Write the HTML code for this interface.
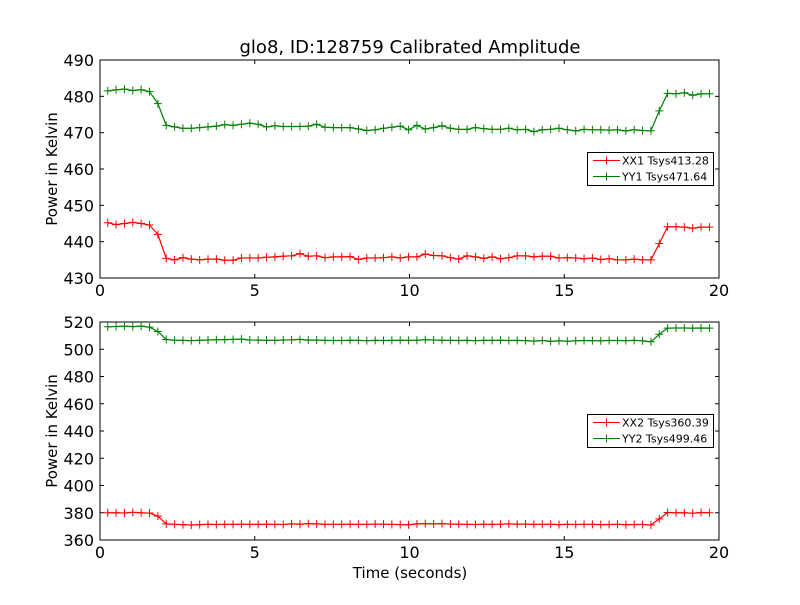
<!DOCTYPE html>
<html><head><meta charset="utf-8"><style>
body{margin:0;background:#fff}
svg text{font-family:"DejaVu Sans","Liberation Sans",sans-serif}
</style></head><body>
<svg id="c" width="800" height="600" xmlns="http://www.w3.org/2000/svg">
<rect width="800" height="600" fill="#fff"/>
<text x="410" y="53" text-anchor="middle" font-size="18">glo8, ID:128759 Calibrated Amplitude</text>
<text x="410" y="578" text-anchor="middle" font-size="15">Time (seconds)</text>
</svg>
<script>
const xx1 = [445.2,444.7,445.0,445.3,445.0,444.6,442.0,435.4,
435.0,435.6,435.2,435.0,435.2,435.2,434.9,434.9,435.5,435.5,
435.5,435.7,435.8,436.0,436.1,436.7,436.0,436.1,435.6,435.8,
435.8,435.9,435.1,435.5,435.5,435.6,435.8,435.5,435.8,435.8,
436.6,436.2,436.1,435.6,435.2,436.1,435.8,435.4,435.8,435.3,
435.6,436.1,436.1,435.8,436.0,436.0,435.5,435.6,435.5,435.3,
435.5,435.1,435.3,435.0,435.0,435.2,435.0,435.0,439.5,
444.1,444.1,444.0,443.7,444.0,444.0];
const yy1 = [481.5,481.8,482.0,481.6,481.8,481.3,478.0,472.0,
471.6,471.2,471.2,471.4,471.6,471.8,472.2,472.0,472.3,472.6,
472.3,471.6,471.9,471.7,471.7,471.7,471.8,472.3,471.5,471.4,
471.4,471.4,471.0,470.6,470.8,471.2,471.5,471.8,470.8,472.0,
471.0,471.4,471.9,471.2,470.9,470.9,471.4,471.1,470.9,470.9,
471.2,470.8,470.9,470.3,470.8,470.9,471.2,470.8,470.5,470.9,
470.8,470.8,470.7,470.8,470.5,470.8,470.6,470.5,476.0,
480.8,480.7,481.0,480.3,480.7,480.7];
const xx2 = [380.0,380.0,379.8,380.3,380.0,379.8,377.5,371.8,
371.5,371.2,371.0,371.3,371.5,371.4,371.5,371.5,371.6,371.5,
371.5,371.6,371.5,371.4,371.8,371.6,372.0,371.8,371.5,371.5,
371.5,371.6,371.5,371.5,371.7,371.6,371.5,371.3,371.2,371.8,
372.0,371.8,372.0,371.7,371.6,371.5,371.4,371.6,371.5,371.6,
371.8,371.6,371.7,371.5,371.5,371.6,371.3,371.5,371.4,371.5,
371.5,371.3,371.4,371.5,371.2,371.4,371.4,371.0,375.5,
380.2,380.0,380.0,379.7,380.2,380.0];
const yy2 = [516.5,516.7,517.0,516.6,517.0,516.2,513.0,507.2,
506.6,506.5,506.3,506.6,506.8,507.0,507.1,507.2,507.4,506.8,
506.7,506.6,506.5,506.8,506.9,507.2,506.7,506.8,506.5,506.4,
506.4,506.6,506.5,506.3,506.5,506.4,506.5,506.6,506.5,506.6,
507.0,506.8,506.6,506.5,506.4,506.5,506.3,506.5,506.5,506.6,
506.4,506.5,506.3,506.0,506.4,505.8,506.2,505.9,506.2,506.4,
506.3,506.2,506.4,506.4,506.3,506.5,506.2,505.5,511.0,
515.5,515.6,515.6,515.5,515.6,515.5];
const t0 = 0.25, dt = 0.27;
const xTicks = [0,5,10,15,20];
const yTicks1 = [430,440,450,460,470,480,490];
const yTicks2 = [360,380,400,420,440,460,480,500,520];
const leg1 = ["XX1 Tsys413.28","YY1 Tsys471.64"];
const leg2 = ["XX2 Tsys360.39","YY2 Tsys499.46"];

const svg = document.getElementById('c');
const NS = 'http://www.w3.org/2000/svg';
function mk(tag, attrs, parent){const e=document.createElementNS(NS,tag);for(const k in attrs)e.setAttribute(k,attrs[k]);(parent||svg).appendChild(e);return e;}

function panel(top, bottom, ymin, ymax, yTicks, s1, s2, legs, legY, idx){
  const L=100,R=719;
  const xs=v=>L+(v-0)/(20-0)*(R-L);
  const ys=v=>bottom-(v-ymin)/(ymax-ymin)*(bottom-top);
  const g=mk('g',{});
  
  
  const fr=mk('rect',{x:L,y:top,width:R-L,height:bottom-top,fill:'none',stroke:'#000','stroke-width':1},g);
  
  
  xTicks.forEach(v=>{
    const x=xs(v);
    mk('line',{x1:x,y1:bottom,x2:x,y2:bottom-4,stroke:'#000'},g);
    mk('line',{x1:x,y1:top,x2:x,y2:top+4,stroke:'#000'},g);
    const t=mk('text',{x:x,y:bottom+18,'text-anchor':'middle','font-size':16},g);
    t.textContent=v;
    
    
  });
  yTicks.forEach(v=>{
    const y=ys(v);
    mk('line',{x1:L,y1:y,x2:L+4,y2:y,stroke:'#000'},g);
    mk('line',{x1:R,y1:y,x2:R-4,y2:y,stroke:'#000'},g);
    const t=mk('text',{x:L-6,y:y+6,'text-anchor':'end','font-size':16},g);
    t.textContent=v;
    
    
  });
  const yl=mk('text',{x:0,y:0,'text-anchor':'middle','font-size':15,transform:`translate(57,${(top+bottom)/2}) rotate(-90)`},g);
  yl.textContent='Power in Kelvin';
  
  
  [[s1,'#ff0000'],[s2,'#008000']].forEach(([s,c],k)=>{
    const pts=s.map((v,i)=>xs(t0+i*dt).toFixed(1)+','+ys(v).toFixed(1)).join(' ');
    const pl=mk('polyline',{points:pts,fill:'none',stroke:c,'stroke-width':1.2},g);
    
    
    s.forEach((v,i)=>{
      const x=xs(t0+i*dt),y=ys(v);
      const m=mk('path',{d:`M${x-4},${y}H${x+4}M${x},${y-4}V${y+4}`,stroke:c,'stroke-width':1},g);
      
      
    });
  });
  const lg=mk('g',{},g);
  
  
  mk('rect',{x:587.5,y:legY+0.5,width:126,height:33,fill:'#fff',stroke:'#000','stroke-width':1},lg);
  legs.forEach((txt,k)=>{
    const c=k?'#008000':'#ff0000', y=legY+8.5+k*16;
    mk('path',{d:`M593,${y}H620M606.5,${y-4}V${y+4}`,stroke:c,'stroke-width':1},lg);
    const t=mk('text',{x:622,y:y+4,'font-size':11},lg);
    t.textContent=txt;
    
    
  });
}
panel(60,278,430,490,yTicks1,xx1,yy1,leg1,152,1);
panel(322,540,360,520,yTicks2,xx2,yy2,leg2,414,2);
</script>
</body></html>
